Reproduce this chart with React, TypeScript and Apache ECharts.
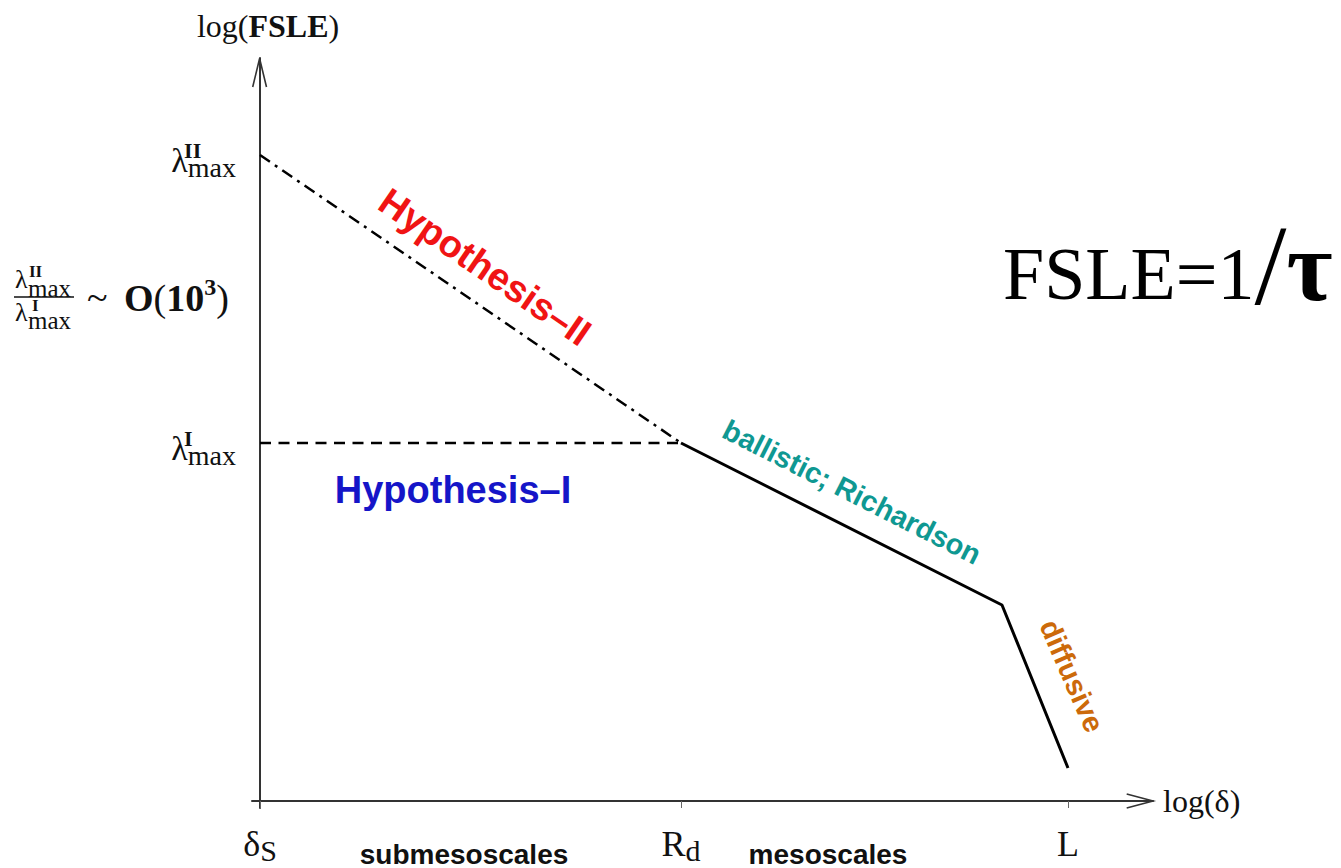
import React, { useEffect, useRef } from 'react';
import * as echarts from 'echarts';

// ---- tick definitions (schematic log units) ----
const xTickValues = [0, 4.21, 8.08];
const xTickMain = ['δ', 'R', 'L'];
const xTickSub = ['S', 'd', ''];
const yTickValues = [3.58, 6.46];
const yTickMain = ['λ', 'λ'];
const yTickSup = ['I', 'II'];
const yTickSub = ['max', 'max'];

// ---- series: [log(δ), log(FSLE)] ----
const hypothesisIIData = [[0, 6.46], [4.21, 3.58]];
const hypothesisIData = [[0, 3.58], [4.21, 3.58]];
const observedData = [[4.21, 3.58], [7.42, 1.96], [8.08, 0.33]];

const xAxisRange = [-0.08, 8.93];
const yAxisRange = [-0.07, 7.43];

const SERIF = '"Liberation Serif", "Times New Roman", serif';
const SANS = '"Liberation Sans", Arial, Helvetica, sans-serif';

function tickIndex(list: number[], v: number) {
  for (let i = 0; i < list.length; i++) if (Math.abs(list[i] - v) < 1e-6) return i;
  return -1;
}

export default function App() {
  const ref = useRef<HTMLDivElement>(null);
  useEffect(() => {
    const chart = echarts.init(ref.current!, null, { renderer: 'svg' });

    const yRich: any = {
      l: { fontFamily: SERIF, fontSize: 34, lineHeight: 10, color: '#111' },
      sub: { fontFamily: SERIF, fontSize: 28, lineHeight: 10, padding: [15, 0, 0, 0], color: '#111' },
    };
    yTickSup.forEach((s, i) => {
      yRich['sup' + i] = {
        fontFamily: SERIF, fontSize: 22, fontWeight: 'bold', lineHeight: 10,
        padding: [0, 52 - 8.6 * s.length, 0, 0], color: '#111',
      };
    });

    const xRich: any = {
      m: { fontFamily: SERIF, fontSize: 36, lineHeight: 36, color: '#111' },
      s: { fontFamily: SERIF, fontSize: 30, lineHeight: 36, padding: [12, 0, 0, 0], color: '#111' },
    };

    const axisColor = '#333';
    const lineFill = 'none';

    const graphics: any[] = [
      // axis arrow heads (open chevrons)
      { type: 'polyline', z: 10, shape: { points: [[252.7, 87], [259.6, 58.5], [266.5, 87]] },
        style: { stroke: axisColor, lineWidth: 1.6, fill: lineFill } },
      { type: 'polyline', z: 10, shape: { points: [[1126.7, 794], [1153, 801], [1126.7, 808]] },
        style: { stroke: axisColor, lineWidth: 1.6, fill: lineFill } },
      // regime annotations
      { type: 'text', x: 485, y: 267, rotation: -0.6, z: 10,
        style: { text: 'Hypothesis–II', font: `bold 38px ${SANS}`, fill: '#f01414', align: 'center', verticalAlign: 'middle' } },
      { type: 'text', x: 453, y: 490, z: 10,
        style: { text: 'Hypothesis–I', font: `bold 38px ${SANS}`, fill: '#1515c8', align: 'center', verticalAlign: 'middle' } },
      { type: 'text', x: 852, y: 492, rotation: -0.468, z: 10,
        style: { text: 'ballistic; Richardson', font: `bold 29px ${SANS}`, fill: '#0f9892', align: 'center', verticalAlign: 'middle' } },
      { type: 'text', x: 1072, y: 676, rotation: -1.16, z: 10,
        style: { text: 'diffusive', font: `bold 29px ${SANS}`, fill: '#cc6a0a', align: 'center', verticalAlign: 'middle' } },
      { type: 'text', x: 464, y: 854, z: 10,
        style: { text: 'submesoscales', font: `bold 28px ${SANS}`, fill: '#111', align: 'center', verticalAlign: 'middle' } },
      { type: 'text', x: 828, y: 854, z: 10,
        style: { text: 'mesoscales', font: `bold 28px ${SANS}`, fill: '#111', align: 'center', verticalAlign: 'middle' } },
      // FSLE = 1/tau
      { type: 'text', x: 1003, y: 265, z: 10,
        style: {
          text: '{a|FSLE=1}{b|/}{c|τ}', align: 'left', verticalAlign: 'middle', fill: '#000',
          rich: {
            a: { fontFamily: SERIF, fontSize: 74, lineHeight: 110, padding: [18, 0, 0, 0] },
            b: { fontFamily: SERIF, fontSize: 115, lineHeight: 110 },
            c: { fontFamily: SERIF, fontSize: 100, fontWeight: 'bold', lineHeight: 110, padding: [3, 0, 0, 0] },
          },
        } },
      // ratio annotation
      { type: 'text', x: 15, y: 279, z: 10, style: { text: 'λ', font: `26px ${SERIF}`, fill: '#111', align: 'left', verticalAlign: 'middle' } },
      { type: 'text', x: 29, y: 271, z: 10, style: { text: 'II', font: `bold 17px ${SERIF}`, fill: '#111', align: 'left', verticalAlign: 'middle' } },
      { type: 'text', x: 28, y: 288, z: 10, style: { text: 'max', font: `25px ${SERIF}`, fill: '#111', align: 'left', verticalAlign: 'middle' } },
      { type: 'line', z: 10, shape: { x1: 14, y1: 297, x2: 74, y2: 297 }, style: { stroke: '#111', lineWidth: 1.5 } },
      { type: 'text', x: 15, y: 312, z: 10, style: { text: 'λ', font: `26px ${SERIF}`, fill: '#111', align: 'left', verticalAlign: 'middle' } },
      { type: 'text', x: 32, y: 305, z: 10, style: { text: 'I', font: `bold 17px ${SERIF}`, fill: '#111', align: 'left', verticalAlign: 'middle' } },
      { type: 'text', x: 28, y: 320, z: 10, style: { text: 'max', font: `25px ${SERIF}`, fill: '#111', align: 'left', verticalAlign: 'middle' } },
      { type: 'text', x: 87, y: 297, z: 10, style: { text: '~', font: `38px ${SERIF}`, fill: '#111', align: 'left', verticalAlign: 'middle' } },
      { type: 'text', x: 124, y: 298, z: 10,
        style: {
          text: '{b|O}{r|(}{b|10}{s|3}{r|)}', align: 'left', verticalAlign: 'middle', fill: '#111',
          rich: {
            b: { fontFamily: SERIF, fontSize: 38, fontWeight: 'bold', lineHeight: 44 },
            r: { fontFamily: SERIF, fontSize: 38, lineHeight: 44 },
            s: { fontFamily: SERIF, fontSize: 24, fontWeight: 'bold', lineHeight: 44, padding: [0, 0, 22, 0] },
          },
        } },
    ];

    chart.setOption({
      animation: false,
      backgroundColor: '#fff',
      grid: { left: 252, top: 58, width: 901, height: 750, containLabel: false, outerBoundsMode: 'none' },
      xAxis: {
        type: 'value',
        min: xAxisRange[0],
        max: xAxisRange[1],
        name: 'log(δ)',
        nameLocation: 'end',
        nameGap: 10,
        nameTextStyle: { fontFamily: SERIF, fontSize: 32, color: '#111', verticalAlign: 'middle' },
        axisLine: { show: true, onZero: true, lineStyle: { color: axisColor, width: 2 } },
        axisTick: { show: true, customValues: xTickValues, length: 7, lineStyle: { color: '#666', width: 1 } },
        axisLabel: {
          customValues: xTickValues,
          margin: 18,
          formatter: (v: number) => {
            const i = tickIndex(xTickValues, v);
            if (i < 0) return '';
            return xTickSub[i] ? `{m|${xTickMain[i]}}{s|${xTickSub[i]}}` : `{m|${xTickMain[i]}}`;
          },
          rich: xRich,
        },
        splitLine: { show: false },
      },
      yAxis: {
        type: 'value',
        min: yAxisRange[0],
        max: yAxisRange[1],
        name: '{r|log(}{b|FSLE}{r|)}',
        nameLocation: 'end',
        nameGap: 16,
        nameTextStyle: {
          padding: [0, 0, 0, 16],
          rich: {
            r: { fontFamily: SERIF, fontSize: 32, color: '#111' },
            b: { fontFamily: SERIF, fontSize: 32, fontWeight: 'bold', color: '#111' },
          },
        },
        axisLine: { show: true, onZero: true, lineStyle: { color: axisColor, width: 2 } },
        axisTick: { show: false },
        axisLabel: {
          customValues: yTickValues,
          margin: 16,
          formatter: (v: number) => {
            const i = tickIndex(yTickValues, v);
            if (i < 0) return '';
            return `{sup${i}|${yTickSup[i]}}\n{l|${yTickMain[i]}}{sub|${yTickSub[i]}}`;
          },
          rich: yRich,
        },
        splitLine: { show: false },
      },
      series: [
        {
          name: 'Hypothesis-II', type: 'line', data: hypothesisIIData, showSymbol: false, symbol: 'none', z: 5,
          lineStyle: { color: '#000', width: 2.5, type: [12, 6, 3, 6] },
        },
        {
          name: 'Hypothesis-I', type: 'line', data: hypothesisIData, showSymbol: false, symbol: 'none', z: 5,
          lineStyle: { color: '#000', width: 2.5, type: [11, 7.5] },
        },
        {
          name: 'observed', type: 'line', data: observedData, showSymbol: false, symbol: 'none', z: 5,
          lineStyle: { color: '#000', width: 3, type: 'solid' },
        },
      ],
      graphic: { elements: graphics },
    });

    return () => chart.dispose();
  }, []);

  return <div ref={ref} style={{ position: 'fixed', left: 0, top: 0, width: 1341, height: 868 }} />;
}
